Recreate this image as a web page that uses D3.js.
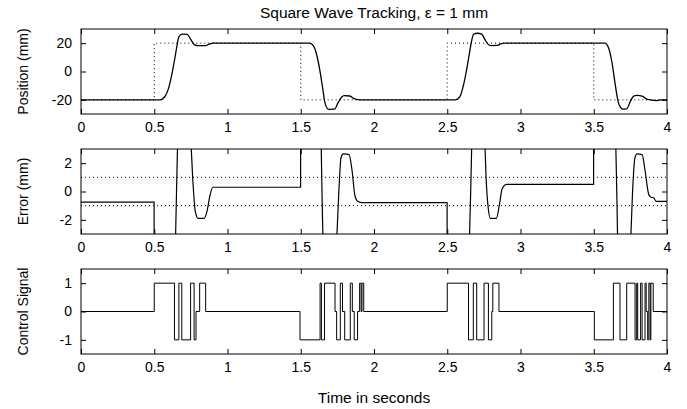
<!DOCTYPE html>
<html>
<head>
<meta charset="utf-8">
<script src="https://cdn.jsdelivr.net/npm/d3@7"></script>
<style>
  body { margin: 0; background: #fff; }
  text { font-family: "Liberation Sans", Arial, Helvetica, sans-serif; fill: #000; }
  .tick line { stroke: #000; }
</style>
</head>
<body>
<svg class="chart"></svg>
<script>
var width = 687, height = 409;

var xTicks = [0, 0.5, 1, 1.5, 2, 2.5, 3, 3.5, 4];
var posTicks = [-20, 0, 20];
var errTicks = [-2, 0, 2];
var ctrlTicks = [-1, 0, 1];
var bandLevels = [-1, 1];

// reference square wave (step after)
var reference = [[0, -20], [0.5, 20], [1.5, -20], [2.5, 20], [3.5, -20], [4, -20]];

// measured position (mm)
var position = [[0, -20], [0.54, -20], [0.57, -18], [0.6, -11], [0.62, -2], [0.64, 9], [0.655, 18], [0.668, 24.5],
  [0.69, 26.4], [0.725, 26.2], [0.75, 22.5], [0.775, 18.8], [0.8, 18.2], [0.85, 18.3], [0.875, 19.3], [0.9, 20],
  [1.56, 20], [1.59, 17.5], [1.615, 9], [1.635, -2], [1.65, -12], [1.665, -22], [1.69, -26.7], [1.73, -26.6],
  [1.755, -22], [1.78, -18], [1.795, -17], [1.835, -17.3], [1.86, -19], [1.9, -20],
  [2.555, -20], [2.585, -18], [2.61, -10], [2.63, 0], [2.65, 12], [2.665, 21], [2.68, 26.3], [2.705, 27],
  [2.735, 26.4], [2.76, 22], [2.785, 18.7], [2.8, 18.3], [2.84, 18.4], [2.865, 19.5], [2.895, 20],
  [3.575, 20], [3.6, 17], [3.625, 6], [3.645, -8], [3.66, -18], [3.675, -24], [3.7, -26.5], [3.725, -26.4],
  [3.75, -21], [3.775, -17.2], [3.795, -16.8], [3.835, -17.5], [3.86, -19.5], [3.885, -20], [3.93, -20.5],
  [3.96, -20], [4, -20]];

// tracking error (mm), goes far off scale at each step
var trackError = [[0, -0.75], [0.499, -0.75], [0.5, -40], [0.55, -40], [0.6, -25], [0.64, -6], [0.652, 0],
  [0.665, 5], [0.69, 6.5], [0.72, 6.5], [0.75, 3.5], [0.765, 0.5], [0.78, -1.4], [0.8, -1.9], [0.84, -1.9],
  [0.86, -1.4], [0.88, -0.3], [0.9, 0.3], [1.499, 0.3], [1.5, 40], [1.56, 40], [1.6, 25], [1.635, 6],
  [1.645, 0], [1.66, -6], [1.68, -6.7], [1.72, -6.7], [1.745, -3.5], [1.76, 0], [1.775, 2.4], [1.79, 2.65],
  [1.83, 2.6], [1.85, 1.5], [1.87, -0.3], [1.89, -0.7], [1.92, -0.78], [2.499, -0.78],
  [2.5, -40], [2.55, -40], [2.6, -25], [2.645, -6], [2.66, 0], [2.672, 5], [2.69, 7], [2.73, 7],
  [2.755, 4], [2.765, 1], [2.78, -1.2], [2.795, -1.9], [2.835, -1.9], [2.855, -1], [2.875, 0.2],
  [2.905, 0.5], [3.499, 0.5], [3.5, 40], [3.57, 40], [3.61, 25], [3.645, 6], [3.657, 0], [3.67, -6],
  [3.7, -6.5], [3.73, -6.5], [3.75, -4], [3.765, 0], [3.78, 2.3], [3.795, 2.65], [3.83, 2.6], [3.85, 1.5],
  [3.875, -0.2], [3.89, -0.4], [3.91, -0.45], [3.925, -0.7], [4, -0.7]];

// bang-bang control signal (step after)
var control = [[0, 0], [0.5, 1], [0.638, -1], [0.668, 1], [0.688, -1], [0.748, 1], [0.772, -1], [0.785, 0],
  [0.81, 1], [0.851, 0],
  [1.495, -1], [1.632, 1], [1.641, -1], [1.662, 1], [1.734, 0], [1.745, -1], [1.77, 1], [1.785, 0],
  [1.8, -1], [1.838, 1], [1.852, 0], [1.865, -1], [1.888, 0], [1.902, 1], [1.912, 0], [1.918, 1], [1.93, 0],
  [2.5, 1], [2.645, -1], [2.678, 1], [2.701, -1], [2.751, 1], [2.781, -1], [2.804, 0], [2.811, 1], [2.853, 0],
  [3.504, -1], [3.634, 1], [3.679, -1], [3.725, 1], [3.736, 1], [3.782, -1], [3.793, 1], [3.80, -1],
  [3.82, 1], [3.83, -1], [3.85, 1], [3.858, 0], [3.868, -1], [3.876, 1], [3.885, -1], [3.89, 1], [3.906, 0], [4, 0]];

var panels = [
  { top: 29, domain: [-30, 30], ticks: posTicks, label: "Position (mm)", id: "pos" },
  { top: 149, domain: [-3, 3], ticks: errTicks, label: "Error (mm)", id: "err" },
  { top: 269, domain: [-1.5, 1.5], ticks: ctrlTicks, label: "Control Signal", id: "ctrl" }
];
var left = 81, right = 667, panelH = 85;
var plain = function(d) { return String(d); };

var x = d3.scaleLinear().domain([0, 4]).range([left, right]);

var svg = d3.select(".chart")
    .attr("width", width)
    .attr("height", height);

svg.append("text")
    .attr("x", (left + right) / 2)
    .attr("y", 18)
    .style("text-anchor", "middle")
    .style("font-size", "15.5px")
    .text("Square Wave Tracking, \u03b5 = 1 mm");

panels.forEach(function(p) {
  var y = d3.scaleLinear().domain(p.domain).range([p.top + panelH, p.top]);
  p.y = y;

  svg.append("clipPath")
      .attr("id", "clip-" + p.id)
    .append("rect")
      .attr("x", left).attr("y", p.top)
      .attr("width", right - left).attr("height", panelH);

  svg.append("g")
      .attr("transform", "translate(0," + (p.top + panelH) + ")")
      .call(d3.axisBottom(x).tickValues(xTicks).tickSize(-5).tickPadding(8).tickFormat(plain))
      .call(function(g) { g.select(".domain").remove(); })
      .selectAll("text").style("font-size", "14px").style("font-family", "Liberation Sans, Arial, sans-serif");

  svg.append("g")
      .attr("transform", "translate(0," + p.top + ")")
      .call(d3.axisTop(x).tickValues(xTicks).tickSize(-5).tickFormat(""))
      .call(function(g) { g.select(".domain").remove(); });

  svg.append("g")
      .attr("transform", "translate(" + left + ",0)")
      .call(d3.axisLeft(y).tickValues(p.ticks).tickSize(-5).tickPadding(9).tickFormat(plain))
      .call(function(g) { g.select(".domain").remove(); })
      .selectAll("text").style("font-size", "14px").style("font-family", "Liberation Sans, Arial, sans-serif");

  svg.append("g")
      .attr("transform", "translate(" + right + ",0)")
      .call(d3.axisRight(y).tickValues(p.ticks).tickSize(-5).tickFormat(""))
      .call(function(g) { g.select(".domain").remove(); });

  svg.append("rect")
      .attr("x", left).attr("y", p.top)
      .attr("width", right - left).attr("height", panelH)
      .attr("fill", "none")
      .attr("stroke", "#000")
      .attr("stroke-width", 1);

  svg.append("text")
      .attr("transform", "translate(28," + (p.top + panelH / 2) + ") rotate(-90)")
      .style("text-anchor", "middle")
      .style("font-size", "14px")
      .text(p.label);
});

var line = function(y, curve) {
  return d3.line()
      .x(function(d) { return x(d[0]); })
      .y(function(d) { return y(d[1]); })
      .curve(curve);
};

// top: reference (dotted) and position
var pTop = panels[0];
svg.append("path")
    .datum(reference)
    .attr("clip-path", "url(#clip-pos)")
    .attr("fill", "none")
    .attr("stroke", "#000")
    .attr("stroke-dasharray", "1,3")
    .attr("d", line(pTop.y, d3.curveStepAfter));

svg.append("path")
    .datum(position)
    .attr("clip-path", "url(#clip-pos)")
    .attr("fill", "none")
    .attr("stroke", "#000")
    .attr("stroke-width", 1.3)
    .attr("d", line(pTop.y, d3.curveMonotoneX));

// middle: error band and error
var pMid = panels[1];
svg.selectAll(".band")
    .data(bandLevels)
  .enter().append("line")
    .attr("class", "band")
    .attr("x1", left).attr("x2", right)
    .attr("y1", function(d) { return pMid.y(d); })
    .attr("y2", function(d) { return pMid.y(d); })
    .attr("stroke", "#000")
    .attr("stroke-dasharray", "1,3");

svg.append("path")
    .datum(trackError)
    .attr("clip-path", "url(#clip-err)")
    .attr("fill", "none")
    .attr("stroke", "#000")
    .attr("stroke-width", 1.2)
    .attr("d", line(pMid.y, d3.curveMonotoneX));

// bottom: control signal
var pBot = panels[2];
svg.append("path")
    .datum(control)
    .attr("clip-path", "url(#clip-ctrl)")
    .attr("fill", "none")
    .attr("stroke", "#000")
    .attr("stroke-width", 1)
    .attr("d", line(pBot.y, d3.curveStepAfter));

svg.append("text")
    .attr("x", (left + right) / 2)
    .attr("y", 403)
    .style("text-anchor", "middle")
    .style("font-size", "15.5px")
    .text("Time in seconds");
</script>
</body>
</html>
